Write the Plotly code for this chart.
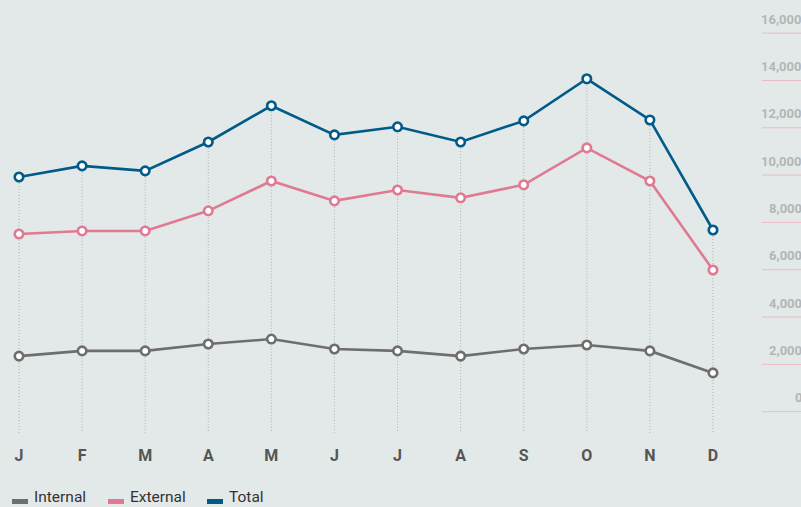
import plotly.graph_objects as go

months = ["J", "F", "M", "A", "M", "J", "J", "A", "S", "O", "N", "D"]
internal = [2350, 2570, 2570, 2860, 3070, 2650, 2570, 2350, 2650, 2820, 2570, 1640]
external = [7510, 7640, 7640, 8490, 9750, 8910, 9370, 9040, 9590, 11150, 9750, 5990]
total = [9920, 10390, 10180, 11400, 12930, 11700, 12040, 11400, 12290, 14070, 12330, 7680]
y_ticks = [0, 2000, 4000, 6000, 8000, 10000, 12000, 14000, 16000]
series_names = ["Internal", "External", "Total"]
series_colors = ["#6e6e6e", "#e07a92", "#005b88"]

W, H = 801, 507
B = 74
PH = H - B
x = list(range(len(months)))
y_bottom = -900
COND = "Roboto, Liberation Sans, sans-serif"

fig = go.Figure()

# vertical dotted guides from Total marker down to the bottom
gx, gy = [], []
for i, t in enumerate(total):
    gx += [i, i, None]
    gy += [t, y_bottom, None]
fig.add_trace(go.Scatter(x=gx, y=gy, mode="lines", hoverinfo="skip",
                         line=dict(color="#aeb3b3", width=1, dash="1px,2px"),
                         showlegend=False))

for name, vals, col in zip(series_names, [internal, external, total], series_colors):
    fig.add_trace(go.Scatter(
        x=x, y=vals, mode="lines+markers", name=name,
        line=dict(color=col, width=2.6),
        marker=dict(size=8.5, color="white", line=dict(color=col, width=2.6)),
        showlegend=False))

shapes = []
annotations = []
for t in y_ticks:
    shapes.append(dict(type="line", xref="paper", yref="y", x0=762 / W, x1=1,
                       y0=t, y1=t, line=dict(color="#efb9c5", width=1)))
    annotations.append(dict(xref="paper", yref="y", x=1, y=t, xanchor="right",
                            yanchor="middle", yshift=14, xshift=3, showarrow=False,
                            text=f"{t:,}",
                            font=dict(family="Roboto, Liberation Sans, Arial", size=13,
                                      color="#b3b6b6", weight="bold")))

# manual legend
leg_x = [12, 108, 207]
for name, col, lx in zip(series_names, series_colors, leg_x):
    shapes.append(dict(type="rect", xref="paper", yref="paper",
                       x0=lx / W, x1=(lx + 16) / W,
                       y0=(PH - 504) / PH, y1=(PH - 499) / PH,
                       fillcolor=col, line=dict(width=0)))
    annotations.append(dict(xref="paper", yref="paper", x=(lx + 21) / W,
                            y=(PH - 497) / PH, xanchor="left", yanchor="middle",
                            showarrow=False, text=name, borderpad=0,
                            font=dict(family=COND, size=15.5, color="#333333")))

fig.update_layout(
    width=W, height=H,
    margin=dict(l=0, r=0, t=0, b=B),
    paper_bgcolor="#e3e9e9", plot_bgcolor="#e3e9e9",
    shapes=shapes, annotations=annotations,
    xaxis=dict(range=[-19 / 63.09, 782 / 63.09], tickvals=x, ticktext=months,
               showgrid=False, zeroline=False, showline=False, ticks="",
               ticklabelstandoff=11,
               tickfont=dict(family=COND, size=16, color="#555555", weight="bold")),
    yaxis=dict(range=[y_bottom, 17400], showgrid=False, zeroline=False,
               showticklabels=False, showline=False),
)

fig.write_html("out.html", config={"displayModeBar": False},
               post_script="document.body.style.margin='0';")
